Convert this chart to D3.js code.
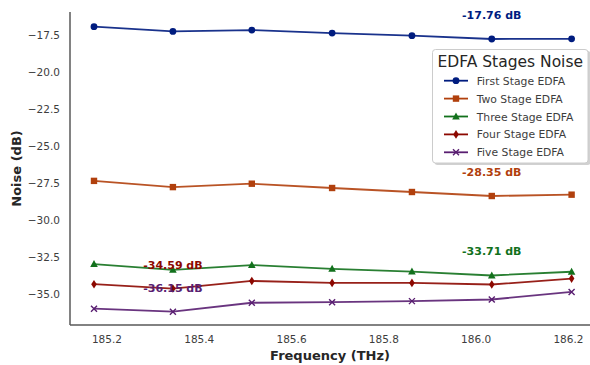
<!DOCTYPE html>
<html>
<head>
<meta charset="utf-8">
<script src="https://cdn.jsdelivr.net/npm/d3@7/dist/d3.min.js"></script>
<style>
  html, body { margin: 0; padding: 0; background: #fff; }
  svg { display: block; font-family: "DejaVu Sans", sans-serif; }
</style>
</head>
<body>
<svg id="chart" width="590" height="365"></svg>
<script>
// ---- data ----
const frequencies = [185.173, 185.344, 185.515, 185.689, 185.862, 186.035, 186.208];
const firstStage  = [-16.93, -17.25, -17.16, -17.36, -17.54, -17.76, -17.75];
const twoStage    = [-27.33, -27.75, -27.52, -27.81, -28.08, -28.35, -28.26];
const threeStage  = [-32.94, -33.33, -33.01, -33.26, -33.45, -33.71, -33.46];
const fourStage   = [-34.30, -34.59, -34.08, -34.21, -34.21, -34.32, -33.92];
const fiveStage   = [-35.95, -36.15, -35.55, -35.51, -35.44, -35.33, -34.82];
const seriesNames = ["First Stage EDFA", "Two Stage EDFA", "Three Stage EDFA", "Four Stage EDFA", "Five Stage EDFA"];
const xTicks = [185.2, 185.4, 185.6, 185.8, 186.0, 186.2];
const yTicks = [-35.0, -32.5, -30.0, -27.5, -25.0, -22.5, -20.0, -17.5];

const colors  = ["#001c7f", "#b1400d", "#12711c", "#8c0800", "#591e71"];
const markers = ["circle", "square", "triangle", "diamond", "x"];
const allSeries = [firstStage, twoStage, threeStage, fourStage, fiveStage];

const svg = d3.select("#chart");
const x = d3.scaleLinear().domain([185.121, 186.26]).range([70, 595.6]);
const y = d3.scaleLinear().domain([-37.05, -15.94]).range([325, 12]);

// axes
const xAxis = d3.axisBottom(x).tickValues(xTicks).tickSize(0).tickPadding(11).tickFormat(d3.format(".1f"));
const yAxis = d3.axisLeft(y).tickValues(yTicks).tickSize(0).tickPadding(10)
  .tickFormat(d => d3.format(".1f")(d).replace("-", "\u2212"));

const gx = svg.append("g").attr("transform", "translate(0,325)").call(xAxis);
const gy = svg.append("g").attr("transform", "translate(70,0)").call(yAxis);
[gx, gy].forEach(g => {
  g.select(".domain").attr("stroke", "#595959").attr("stroke-width", 1.5);
  g.selectAll("text").attr("font-family", "DejaVu Sans").attr("font-size", 10.5).attr("fill", "#3d3d3d");
});
gx.select(".domain").attr("d", "M70,0H600");
gy.select(".domain").attr("d", "M0,12V325");

svg.append("text").attr("x", 330).attr("y", 360).attr("text-anchor", "middle")
  .attr("font-weight", "bold").attr("font-size", 13).attr("fill", "#262626").text("Frequency (THz)");
svg.append("text").attr("transform", "translate(20.5,168.5) rotate(-90)").attr("text-anchor", "middle")
  .attr("font-weight", "bold").attr("font-size", 13).attr("fill", "#262626").text("Noise (dB)");

function drawMarker(g, type, cx, cy, color) {
  if (type === "circle") {
    g.append("circle").attr("cx", cx).attr("cy", cy).attr("r", 3.4).attr("fill", color);
  } else if (type === "square") {
    g.append("rect").attr("x", cx - 3.2).attr("y", cy - 3.2).attr("width", 6.4).attr("height", 6.4).attr("fill", color);
  } else if (type === "triangle") {
    g.append("path").attr("d", `M${cx},${cy - 4}L${cx + 3.8},${cy + 3}L${cx - 3.8},${cy + 3}Z`).attr("fill", color);
  } else if (type === "diamond") {
    g.append("path").attr("d", `M${cx},${cy - 4.3}L${cx + 2.8},${cy}L${cx},${cy + 4.3}L${cx - 2.8},${cy}Z`).attr("fill", color);
  } else if (type === "x") {
    g.append("path").attr("d", `M${cx - 3},${cy - 3}L${cx + 3},${cy + 3}M${cx - 3},${cy + 3}L${cx + 3},${cy - 3}`)
      .attr("stroke", color).attr("stroke-width", 1.4).attr("fill", "none");
  }
}

const line = d3.line().x((d, i) => x(frequencies[i])).y(d => y(d));
allSeries.forEach((vals, s) => {
  const g = svg.append("g");
  g.append("path").datum(vals).attr("d", line).attr("fill", "none")
    .attr("stroke", colors[s]).attr("stroke-width", 1.8).attr("stroke-opacity", 0.9);
  vals.forEach((v, i) => drawMarker(g, markers[s], x(frequencies[i]), y(v), colors[s]));
  // annotate minimum
  let mi = 0;
  vals.forEach((v, i) => { if (v < vals[mi]) mi = i; });
  svg.append("text").attr("x", x(frequencies[mi])).attr("y", y(vals[mi]) - 20)
    .attr("text-anchor", "middle").attr("font-weight", "bold").attr("font-size", 11)
    .attr("fill", colors[s]).text(vals[mi].toFixed(2) + " dB");
});

// legend
const lg = svg.append("g");
lg.append("rect").attr("x", 434.5).attr("y", 51).attr("width", 156).attr("height", 114).attr("rx", 3)
  .attr("fill", "#000").attr("opacity", 0.18);
lg.append("rect").attr("x", 432.5).attr("y", 49.5).attr("width", 155.5).attr("height", 113.5).attr("rx", 3)
  .attr("fill", "#fff").attr("stroke", "#cccccc").attr("stroke-width", 1);
lg.append("text").attr("x", 437.5).attr("y", 66.5).attr("font-size", 15.5).attr("fill", "#262626").text("EDFA Stages Noise");
seriesNames.forEach((name, s) => {
  const cy = 80.7 + s * 17.9;
  lg.append("line").attr("x1", 444).attr("x2", 468).attr("y1", cy).attr("y2", cy)
    .attr("stroke", colors[s]).attr("stroke-width", 1.8);
  drawMarker(lg, markers[s], 456, cy, colors[s]);
  lg.append("text").attr("x", 476.7).attr("y", cy + 4).attr("font-size", 10.8).attr("fill", "#3d3d3d").text(name);
});
</script>
</body>
</html>
